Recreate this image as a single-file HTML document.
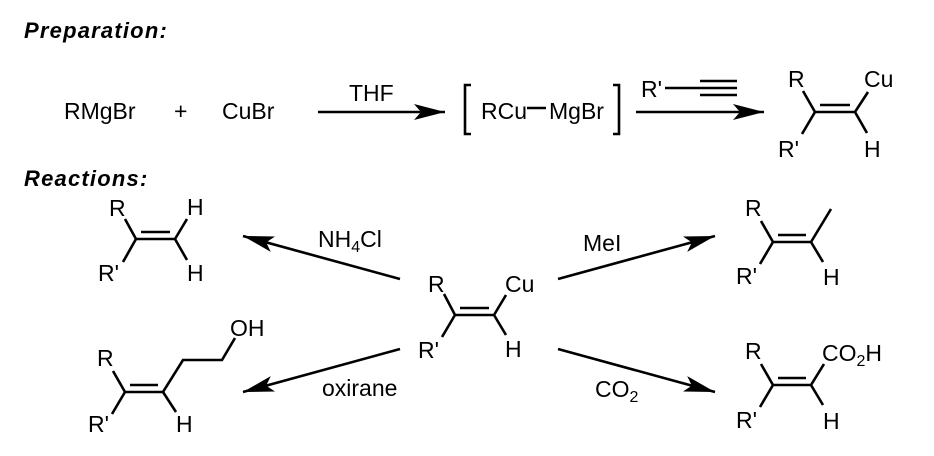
<!DOCTYPE html>
<html><head><meta charset="utf-8"><style>
html,body{margin:0;padding:0;background:#fff;}
svg{display:block;}
text{font-family:"Liberation Sans",Arial,sans-serif;font-size:23px;fill:#000;}
.h{font-weight:bold;font-style:italic;font-size:22px;letter-spacing:1.2px;}
</style></head><body>
<svg width="934" height="456" viewBox="0 0 934 456" xmlns="http://www.w3.org/2000/svg">
<defs>
<marker id="a" markerUnits="userSpaceOnUse" markerWidth="40" markerHeight="24" refX="34" refY="12" orient="auto" viewBox="0 0 40 24">
<path d="M34,12 L3,4 L10,12 L3,20 Z" fill="#000"/>
</marker>
</defs>
<g stroke="#000" stroke-width="2.6" fill="none">
<line x1="318" y1="112" x2="445" y2="112" marker-end="url(#a)"/>
<line x1="636" y1="112" x2="764" y2="112" marker-end="url(#a)"/>
<polyline points="471,85 465,85 465,134 471,134"/>
<polyline points="613,85 619,85 619,134 613,134"/>
<line x1="527" y1="108" x2="546" y2="108"/>
<line x1="665" y1="88" x2="700" y2="88"/>
<line x1="700" y1="81" x2="737" y2="81"/>
<line x1="700" y1="88" x2="737" y2="88"/>
<line x1="700" y1="95" x2="737" y2="95"/>
<path d="M803,91 L815,112 L855,112 L868,92 M815,112 L802,134 M855,112 L867,133 M820,105 L850,105"/>
<path d="M125,219 L136,239 L175,239 L187,219 M136,239 L123,262 M175,239 L187,260 M141,232 L170,232"/>
<path d="M444,294 L455,315 L494,315 L506,295 M455,315 L442,337 M494,315 L506,335 M460,308 L489,308"/>
<path d="M113,371 L125,392 L163,392 L183,360 L222,360 L235,338 M125,392 L112,414 M163,392 L176,412 M130,385 L158,385"/>
<path d="M761,221 L773,242 L811,242 L831,209 M773,242 L760,264 M811,242 L823,262 M778,235 L806,235"/>
<path d="M761,364 L773,385 L811,385 L824,364 M773,385 L760,407 M811,385 L823,405 M778,378 L806,378"/>
<line x1="400" y1="279" x2="243" y2="236" marker-end="url(#a)"/>
<line x1="400" y1="349" x2="243" y2="392" marker-end="url(#a)"/>
<line x1="558" y1="279" x2="715" y2="236" marker-end="url(#a)"/>
<line x1="558" y1="349" x2="715" y2="392" marker-end="url(#a)"/>
</g>
<text class="h" x="24" y="38">Preparation:</text>
<text class="h" x="24" y="186">Reactions:</text>
<text x="64" y="119">RMgBr</text>
<text x="174" y="119">+</text>
<text x="222" y="119">CuBr</text>
<text x="349" y="101">THF</text>
<text x="481" y="119">RCu</text>
<text x="549" y="119">MgBr</text>
<text x="641" y="97">R'</text>
<text x="788" y="87">R</text>
<text x="864" y="87">Cu</text>
<text x="778" y="157">R'</text>
<text x="864" y="157">H</text>
<text x="109" y="216">R</text>
<text x="187" y="215">H</text>
<text x="98" y="281">R'</text>
<text x="187" y="281">H</text>
<text x="318" y="247">NH<tspan font-size="16" dy="5">4</tspan><tspan dy="-5">Cl</tspan></text>
<text x="322" y="396">oxirane</text>
<text x="428" y="292">R</text>
<text x="505" y="292">Cu</text>
<text x="418" y="358">R'</text>
<text x="505" y="357">H</text>
<text x="97" y="366">R</text>
<text x="230" y="336">OH</text>
<text x="88" y="432">R'</text>
<text x="176" y="432">H</text>
<text x="583" y="251">MeI</text>
<text x="595" y="397">CO<tspan font-size="16" dy="5">2</tspan></text>
<text x="745" y="216">R</text>
<text x="736" y="284">R'</text>
<text x="823" y="285">H</text>
<text x="745" y="359">R</text>
<text x="822" y="361">CO<tspan font-size="16" dy="5">2</tspan><tspan dy="-5">H</tspan></text>
<text x="736" y="428">R'</text>
<text x="823" y="429">H</text>
</svg>
</body></html>
